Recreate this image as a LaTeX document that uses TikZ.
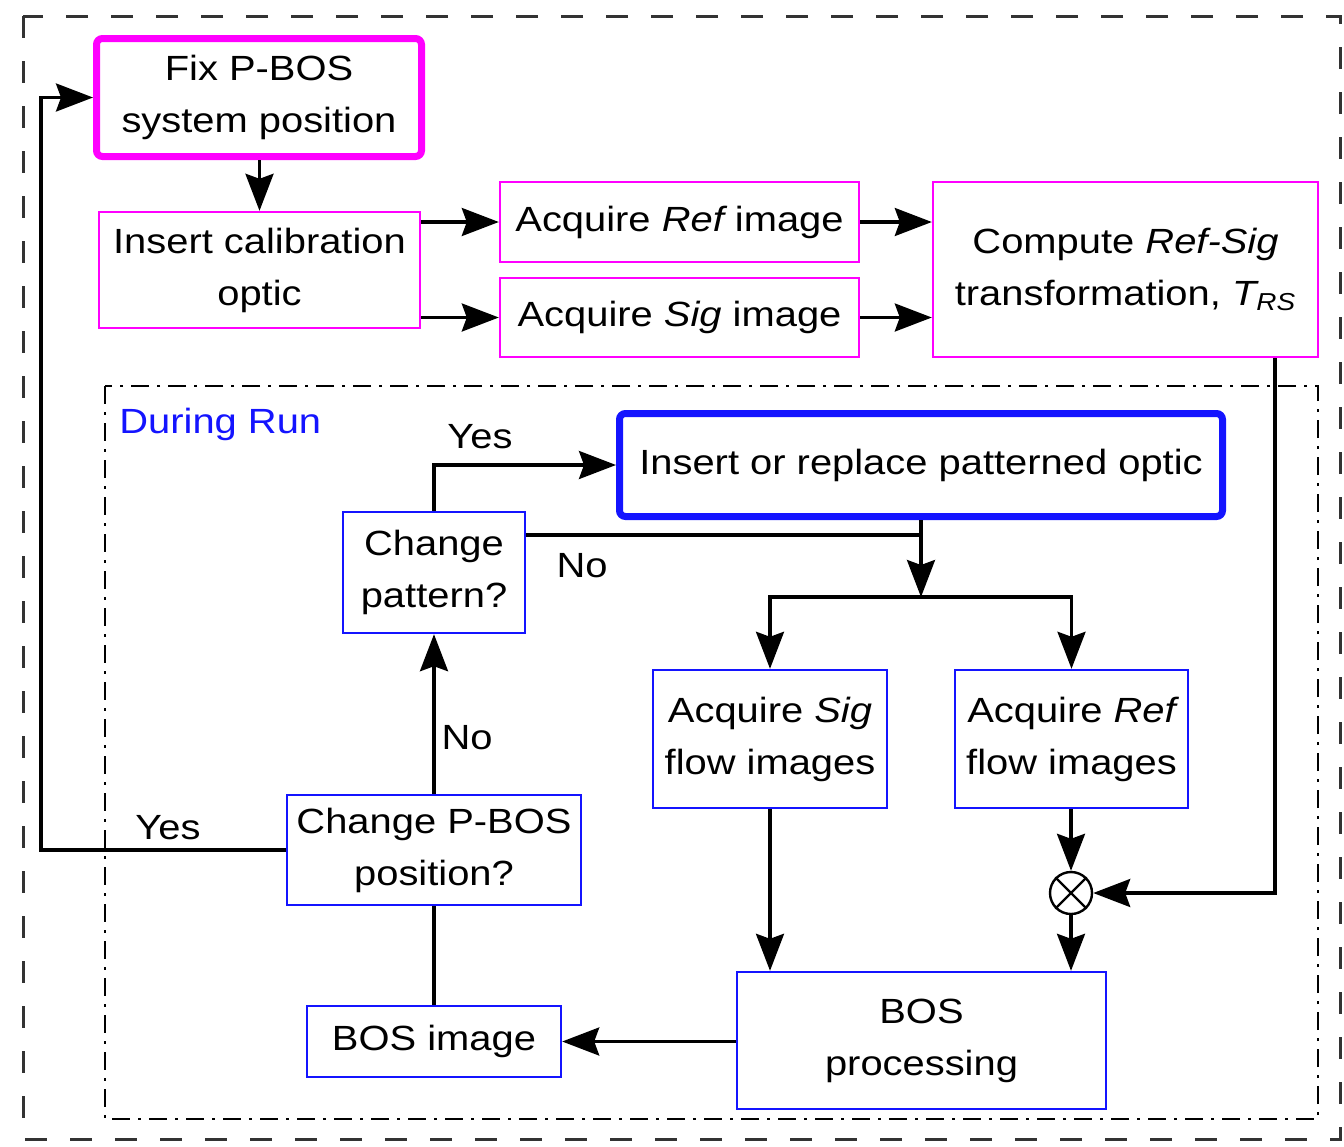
\documentclass[tikz,border=0pt]{standalone}
\usepackage{fontspec}
\setmainfont{Liberation Sans}[FakeStretch=1.14]
\usetikzlibrary{arrows.meta}
\definecolor{mag}{RGB}{255,0,255}
\definecolor{blu}{RGB}{20,20,255}
\begin{document}
\begin{tikzpicture}[x=0.5pt,y=-0.5pt,
  txt/.style={font=\fontsize{17.5pt}{26pt}\selectfont},
  box/.style={txt, draw, line width=1.2pt, inner sep=0pt, align=center},
  magbox/.style={box, draw=mag},
  blubox/.style={box, draw=blu},
  heavy/.style={line width=3.5pt, rounded corners=3pt},
  conn/.style={line width=1.6pt},
  arr/.style={conn, -{Stealth[length=18.5pt,width=14pt,inset=2.5pt]}},
  lbl/.style={txt, inner sep=0pt}
]
\useasboundingbox (0,0) rectangle (1344,1146);
% frames
\draw[line width=1.5pt, black!80, dash pattern=on 11pt off 11.5pt] (23,16) rectangle (1340,1139);
\draw[line width=1.2pt, dash pattern=on 9pt off 4pt on 1.5pt off 4pt] (105,386) rectangle (1318,1119);
\node[lbl, text=blu, anchor=west] (run) at (119,424) {During Run};

% top nodes
\node[magbox, heavy, minimum width=162.5pt, minimum height=59pt] (fix) at (259,97.5) {Fix P-BOS\\system position};
\node[magbox, minimum width=160.5pt, minimum height=58pt] (cal) at (259.5,270) {Insert calibration\\optic};
\node[magbox, minimum width=179.5pt, minimum height=40pt] (aref) at (679.5,222) {Acquire {\itshape Ref} image};
\node[magbox, minimum width=179.5pt, minimum height=39.5pt] (asig) at (679.5,317.5) {Acquire {\itshape Sig} image};
\node[magbox, minimum width=192.5pt, minimum height=87.5pt] (comp) at (1125.5,269.5) {Compute {\itshape Ref-Sig}\\transformation, {\itshape T}\textsubscript{\itshape RS}};

% run nodes
\node[blubox, heavy, minimum width=301.5pt, minimum height=51.5pt] (ins) at (921,465) {Insert or replace patterned optic};
\node[blubox, minimum width=91pt, minimum height=60.5pt] (chp) at (434,572.5) {Change\\pattern?};
\node[blubox, minimum width=117pt, minimum height=69pt] (sigf) at (770,739) {Acquire {\itshape Sig}\\flow images};
\node[blubox, minimum width=116.5pt, minimum height=69pt] (reff) at (1071.5,739) {Acquire {\itshape Ref}\\flow images};
\node[draw, circle, line width=1.2pt, minimum size=21pt, inner sep=0pt] (cx) at (1071,893) {};
\draw[line width=1.2pt] (cx.north west) -- (cx.south east) (cx.north east) -- (cx.south west);
\node[blubox, minimum width=184.5pt, minimum height=68.5pt] (bosp) at (921.5,1040.5) {BOS\\processing};
\node[blubox, minimum width=127pt, minimum height=35.5pt] (bosi) at (434,1041.5) {BOS image};
\node[blubox, minimum width=147pt, minimum height=55pt] (cpos) at (434,850) {Change P-BOS\\position?};

% coordinates
\coordinate (tr) at (1275,893);
\coordinate (lp) at (41,850);
\coordinate (j1) at (921,535);
\coordinate (sp) at (921,597);

% connectors top
\draw[arr] (fix.south -| cal.north) -- (cal.north);
\draw[arr] (cal.east |- aref) -- (aref.west);
\draw[arr] (cal.east |- asig) -- (asig.west);
\draw[arr] (aref.east) -- (aref -| comp.west);
\draw[arr] (asig.east) -- (asig -| comp.west);
\draw[arr] (comp.south -| tr) -- (tr) -- (cx.east);

% connectors run
\draw[arr] (reff.south -| cx) -- (cx.north);
\draw[arr] (cx.south) -- (cx |- bosp.north);
\draw[arr] (sigf.south) -- (sigf |- bosp.north);
\draw[arr] (bosp.west |- bosi) -- (bosi.east);
\draw[conn] (bosi.north) -- (cpos.south);
\draw[arr] (cpos.north) -- (chp.south);
\draw[arr] (cpos.west) -- (lp) -- (lp |- fix.west) -- (fix.west);
\draw[arr] (chp.north) -- (chp.north |- ins.west) -- (ins.west);
\draw[conn] (chp.east |- j1) -- (j1);
\draw[conn] (ins.south -| j1) -- (j1);
\draw[arr] (j1) -- (sp);
\draw[arr] (sp) -| (sigf.north);
\draw[arr] (sp) -| (reff.north);

% labels
\node[lbl] (yes1) at (480,437) {Yes};
\node[lbl] (no1) at (582,566) {No};
\node[lbl] (no2) at (467,738) {No};
\node[lbl] (yes2) at (168,828) {Yes};
\end{tikzpicture}
\end{document}
